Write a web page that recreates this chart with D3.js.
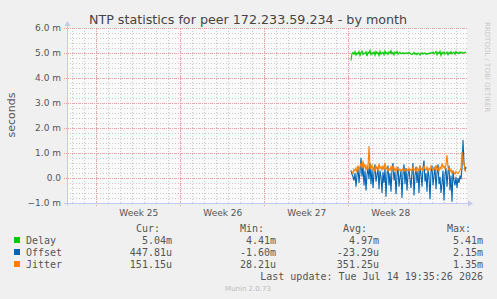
<!DOCTYPE html>
<html>
<head>
<meta charset="utf-8">
<script src="https://cdn.jsdelivr.net/npm/d3@7"></script>
<style>
    body { margin: 0; background: #f0f0f0; }
    svg { display: block; }
    text { font-family: 'DejaVu Sans', sans-serif; }
    .mono { font-family: 'DejaVu Sans Mono', monospace; font-size: 10px; fill: #555; }
</style>
</head>
<body>
<div id="chart"></div>
<script>
// time in hours from the left edge of the graph (2h per sample)
var startHour = 568,
    stepHours = 2;

var delay = [
    4.70, 4.98, 5.02, 4.95, 5.05, 4.92, 5.00, 4.96, 5.06, 4.90,
    5.02, 5.08, 4.94, 5.00, 4.97, 5.05, 4.88, 5.03, 4.99, 5.10,
    4.93, 5.01, 4.96, 5.04, 4.91, 5.06, 4.98, 5.02, 4.90, 5.07,
    4.95, 5.00, 5.03, 4.93, 5.08, 4.97, 5.01, 4.94, 5.05, 4.99,
    5.09, 4.96, 5.02, 4.92, 5.04, 4.98, 5.06, 4.95, 5.00, 5.03,
    4.97, 4.99, 5.02, 4.96, 5.00, 4.98, 5.01, 4.97, 5.03, 4.99,
    4.96, 4.94, 4.98, 5.02, 4.95, 4.99, 4.93, 5.00, 4.97, 4.92,
    4.98, 5.01, 4.95, 4.99, 5.00, 4.94, 4.98, 4.96, 5.00, 4.97,
    5.02, 4.99, 5.04, 4.96, 5.01, 5.06, 4.93, 5.03, 4.98, 5.07,
    4.90, 5.02, 4.97, 5.05, 4.95, 5.00, 5.04, 4.93, 5.02, 4.98,
    5.05, 4.96, 5.01, 5.03, 4.95, 5.06, 4.99, 5.02, 4.97, 5.04,
    5.00, 5.03, 4.98, 5.02, 5.01, 5.04
];

var offset = [
    0.30, 0.15, 0.05, -0.10, 0.20, -0.35, 0.10, 0.45, -0.20, 0.25,
    0.80, 0.05, 0.50, -0.30, 0.30, -0.50, 0.15, 0.40, -0.05, 0.60,
    -0.25, 0.35, -0.40, 0.20, 0.55, -0.15, 0.10, 0.45, -0.45, 0.30,
    0.05, -0.60, 0.25, -0.20, 0.40, -0.75, 0.15, 0.50, -0.30, 0.20,
    -0.55, 0.35, 0.60, -0.10, 0.25, -0.65, 0.10, 0.45, -0.35, 0.05,
    0.30, -0.80, 0.20, 0.55, -0.25, 0.40, -0.50, 0.15, 0.35, -0.05,
    -0.40, 0.25, 0.60, -0.70, 0.10, 0.45, -0.20, 0.30, -0.60, 0.50,
    0.15, -0.35, 0.40, 0.70, -0.15, 0.20, -0.55, 0.35, 0.05, -0.85,
    0.25, 0.50, -0.30, 0.10, 0.45, -0.45, 0.20, 0.55, -0.25, 0.05,
    -0.60, -0.20, 0.30, -0.90, 0.15, 0.40, -0.35, 0.25, 0.50, -0.50,
    0.10, -0.95, 0.30, -0.10, -0.30, 0.05, -0.40, 0.00, -0.20, 0.10,
    -0.05, 0.40, 1.52, 0.60, 0.30, 0.45
];

var jitter = [
    0.30, 0.25, 0.18, 0.35, 0.28, 0.40, 0.22, 0.50, 0.32, 0.45,
    0.60, 0.38, 0.70, 0.42, 0.55, 0.30, 0.48, 0.35, 1.28, 0.50,
    0.35, 0.55, 0.30, 0.42, 0.25, 0.48, 0.36, 0.30, 0.58, 0.38,
    0.45, 0.30, 0.50, 0.33, 0.62, 0.36, 0.42, 0.28, 0.38, 0.31,
    0.46, 0.34, 0.50, 0.29, 0.40, 0.26, 0.42, 0.32, 0.36, 0.29,
    0.34, 0.30, 0.38, 0.27, 0.33, 0.30, 0.36, 0.28, 0.40, 0.31,
    0.35, 0.29, 0.44, 0.32, 0.37, 0.26, 0.42, 0.34, 0.30, 0.46,
    0.33, 0.39, 0.28, 0.50, 0.36, 0.31, 0.44, 0.29, 0.38, 0.32,
    0.48, 0.37, 0.30, 0.42, 0.34, 0.52, 0.32, 0.40, 0.28, 0.44,
    0.36, 0.60, 0.42, 0.48, 0.37, 0.52, 0.92, 0.42, 0.30, 0.24,
    0.35, 0.20, 0.28, 0.22, 0.16, 0.26, 0.20, 0.18, 0.24, 0.30,
    0.40, 1.05, 0.55, 0.65, 0.30, 0.25
];

var weekLabels = ['Week 25', 'Week 26', 'Week 27', 'Week 28'];
var weekStarts = [58.6, 226.6, 394.6, 562.6];   // hours, monday 00:00
var dayStarts = d3.range(10.6, 800, 24);         // hours, midnight lines
var yMajor = [-1, 0, 1, 2, 3, 4, 5, 6];
var yMinor = d3.range(-1, 6.001, 0.2);

var series = [
    { name: 'Delay', color: '#00cc00', values: delay, cur: '5.04m', min: '4.41m', avg: '4.97m', max: '5.41m' },
    { name: 'Offset', color: '#0066b3', values: offset, cur: '447.81u', min: '-1.60m', avg: '-23.29u', max: '2.15m' },
    { name: 'Jitter', color: '#ff8000', values: jitter, cur: '151.15u', min: '28.21u', avg: '351.25u', max: '1.35m' }
];

var W = 497, H = 299;

var svg = d3.select('#chart').append('svg')
    .attr('width', W)
    .attr('height', H);

svg.append('rect')
    .attr('width', W)
    .attr('height', H)
    .style('fill', '#f0f0f0');

var x = d3.scaleLinear().domain([0, 800]).range([67, 467]),
    y = d3.scaleLinear().domain([-1, 6]).range([203, 28]);

// canvas
svg.append('rect')
    .attr('x', x(0))
    .attr('y', y(6))
    .attr('width', x(800) - x(0))
    .attr('height', y(-1) - y(6))
    .style('fill', '#fafafa');

var grid = svg.append('g').attr('class', 'grid');

// minor grid
grid.selectAll('.vminor')
    .data(dayStarts)
    .enter().append('line')
    .attr('x1', function (d) { return Math.round(x(d)) + 0.5; })
    .attr('x2', function (d) { return Math.round(x(d)) + 0.5; })
    .attr('y1', y(-1))
    .attr('y2', y(6))
    .style('stroke', '#c8c8c8')
    .style('stroke-dasharray', '1,2');

grid.selectAll('.hminor')
    .data(yMinor)
    .enter().append('line')
    .attr('x1', x(0))
    .attr('x2', x(800))
    .attr('y1', function (d) { return Math.round(y(d)) + 0.5; })
    .attr('y2', function (d) { return Math.round(y(d)) + 0.5; })
    .style('stroke', '#c8c8c8')
    .style('stroke-dasharray', '1,2');

// major grid
grid.selectAll('.vmajor')
    .data(weekStarts)
    .enter().append('line')
    .attr('x1', function (d) { return Math.round(x(d)) + 0.5; })
    .attr('x2', function (d) { return Math.round(x(d)) + 0.5; })
    .attr('y1', y(-1) + 3)
    .attr('y2', y(6))
    .style('stroke', '#eaa0a0')
    .style('stroke-dasharray', '1,1');

grid.selectAll('.hmajor')
    .data(yMajor)
    .enter().append('line')
    .attr('x1', x(0) - 3)
    .attr('x2', x(800))
    .attr('y1', function (d) { return Math.round(y(d)) + 0.5; })
    .attr('y2', function (d) { return Math.round(y(d)) + 0.5; })
    .style('stroke', '#eaa0a0')
    .style('stroke-dasharray', '1,1');

// y axis labels
var yAxis = d3.axisLeft(y)
    .tickValues(yMajor)
    .tickSize(0)
    .tickPadding(6)
    .tickFormat(function (d) {
        return d == 0 ? '0.0' : d3.format('.1f')(d) + ' m';
    });

svg.append('g')
    .attr('transform', 'translate(' + x(0) + ',0)')
    .call(yAxis)
    .call(function (g) { g.select('.domain').remove(); })
    .selectAll('text')
    .style('font-family', "'DejaVu Sans', sans-serif")
    .style('font-size', '9px')
    .style('fill', '#555');

// x axis labels (week names centered in week)
var xAxis = d3.axisBottom(x)
    .tickValues(weekStarts.map(function (d) { return d + 84; }))
    .tickSize(0)
    .tickPadding(7)
    .tickFormat(function (d, i) { return weekLabels[i]; });

svg.append('g')
    .attr('transform', 'translate(0,' + y(-1) + ')')
    .call(xAxis)
    .call(function (g) { g.select('.domain').remove(); })
    .selectAll('text')
    .style('font-family', "'DejaVu Sans', sans-serif")
    .style('font-size', '9px')
    .style('fill', '#555');

// axis lines with arrows
var axisColor = '#c4c8f0';
svg.append('line')
    .attr('x1', x(0) - 3).attr('x2', x(800) + 2)
    .attr('y1', y(-1) + 0.5).attr('y2', y(-1) + 0.5)
    .style('stroke', axisColor);
svg.append('path')
    .attr('d', 'M' + (x(800) + 6) + ',' + (y(-1) + 0.5) + 'l-5,-3v6z')
    .style('fill', axisColor);
svg.append('line')
    .attr('x1', x(0) + 0.5).attr('x2', x(0) + 0.5)
    .attr('y1', y(-1) + 3).attr('y2', y(6) - 3)
    .style('stroke', axisColor);
svg.append('path')
    .attr('d', 'M' + (x(0) + 0.5) + ',' + (y(6) - 7) + 'l-3,5h6z')
    .style('fill', axisColor);

// series
var line = d3.line()
    .x(function (d, i) { return x(startHour + i * stepHours); })
    .y(function (d) { return y(d); });

svg.append('g').attr('class', 'plot')
    .selectAll('path')
    .data(series)
    .enter().append('path')
    .attr('d', function (d) { return line(d.values); })
    .style('fill', 'none')
    .style('stroke', function (d) { return d.color; })
    .style('stroke-width', 1.1);

// title
svg.append('text')
    .attr('x', 248)
    .attr('y', 24)
    .attr('text-anchor', 'middle')
    .style('font-size', '12.7px')
    .style('fill', '#444')
    .text('NTP statistics for peer 172.233.59.234 - by month');

svg.append('text')
    .attr('transform', 'translate(15,115) rotate(-90)')
    .attr('text-anchor', 'middle')
    .style('font-size', '11px')
    .style('fill', '#555')
    .text('seconds');

svg.append('text')
    .attr('transform', 'translate(485,22) rotate(90)')
    .style('font-size', '7px')
    .style('fill', '#c8c8c8')
    .text('RRDTOOL / TOBI OETIKER');

// legend
var legend = svg.append('g').attr('class', 'legend');
var cols = [
    { key: 'cur', head: 'Cur:', end: 172 },
    { key: 'min', head: 'Min:', end: 276 },
    { key: 'avg', head: 'Avg:', end: 379 },
    { key: 'max', head: 'Max:', end: 483 }
];

legend.selectAll('.head')
    .data(cols)
    .enter().append('text')
    .attr('class', 'mono')
    .attr('x', function (d) { return d.end - 12; })
    .attr('y', 232)
    .attr('text-anchor', 'end')
    .text(function (d) { return d.head; });

var legendItem = legend.selectAll('.item')
    .data(series)
    .enter().append('g')
    .attr('class', 'item')
    .attr('transform', function (d, i) { return 'translate(0,' + (243.5 + i * 12) + ')'; });

legendItem.append('rect')
    .attr('x', 14)
    .attr('y', -6.5)
    .attr('width', 6)
    .attr('height', 6)
    .style('fill', function (d) { return d.color; });

legendItem.append('text')
    .attr('class', 'mono')
    .attr('x', 26)
    .text(function (d) { return d.name; });

cols.forEach(function (c) {
    legendItem.append('text')
        .attr('class', 'mono')
        .attr('x', c.end)
        .attr('text-anchor', 'end')
        .text(function (d) { return d[c.key]; });
});

legend.append('text')
    .attr('class', 'mono')
    .attr('x', 483)
    .attr('y', 279.5)
    .attr('text-anchor', 'end')
    .text('Last update: Tue Jul 14 19:35:26 2026');

svg.append('text')
    .attr('x', 248)
    .attr('y', 291)
    .attr('text-anchor', 'middle')
    .style('font-size', '7px')
    .style('fill', '#bbbbbb')
    .text('Munin 2.0.73');
</script>
</body>
</html>
